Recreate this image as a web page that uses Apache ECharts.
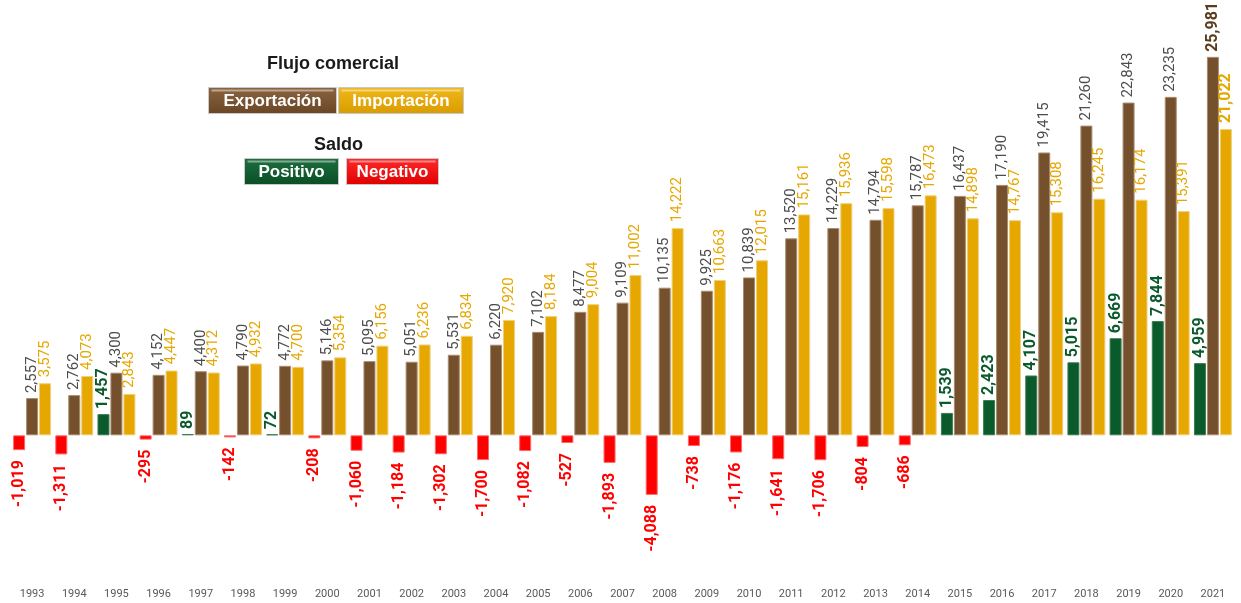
<!DOCTYPE html>
<html>
<head>
<meta charset="utf-8">
<script src="https://cdn.jsdelivr.net/npm/echarts@6/dist/echarts.min.js"></script>
<style>
  html, body { margin: 0; padding: 0; background: #fff; }
  #chart { width: 1241px; height: 603px; }
</style>
</head>
<body>
<div id="chart"></div>
<script>
// años
const years = ['1993', '1994', '1995', '1996', '1997', '1998', '1999', '2000', '2001', '2002',
  '2003', '2004', '2005', '2006', '2007', '2008', '2009', '2010', '2011', '2012',
  '2013', '2014', '2015', '2016', '2017', '2018', '2019', '2020', '2021']

const exportacion = [2557, 2762, 4300, 4152, 4400, 4790, 4772, 5146, 5095, 5051,
  5531, 6220, 7102, 8477, 9109, 10135, 9925, 10839, 13520, 14229,
  14794, 15787, 16437, 17190, 19415, 21260, 22843, 23235, 25981]

const importacion = [3575, 4073, 2843, 4447, 4312, 4932, 4700, 5354, 6156, 6236,
  6834, 7920, 8184, 9004, 11002, 14222, 10663, 12015, 15161, 15936,
  15598, 16473, 14898, 14767, 15308, 16245, 16174, 15391, 21022]

const saldo = [-1019, -1311, 1457, -295, 89, -142, 72, -208, -1060, -1184,
  -1302, -1700, -1082, -527, -1893, -4088, -738, -1176, -1641, -1706,
  -804, -686, 1539, 2423, 4107, 5015, 6669, 7844, 4959]

const FONT = 'Roboto'
const GREEN = '#0b5a2b'
const RED = '#ff0000'
const BROWN = '#75502d'
const GOLD = '#e6a700'

const fmt = v => v.toLocaleString('en-US')

function vGrad(top, bottom) {
  return new echarts.graphic.LinearGradient(0, 0, 0, 1, [
    { offset: 0, color: top },
    { offset: 1, color: bottom },
  ])
}

// el último año va en negrita
function withBoldLast(arr, color) {
  return arr.map((v, i) => i === arr.length - 1
    ? { value: v, label: { fontWeight: 'bold', fontSize: 16, color } }
    : v)
}

const saldoData = saldo.map(v => {
  const pos = v >= 0
  return {
    value: v,
    itemStyle: { color: pos ? GREEN : RED, borderColor: pos ? '#3d7d55' : '#ff6666' },
    label: pos
      ? { position: 'top', align: 'left', color: GREEN, distance: 5 }
      : { position: 'bottom', align: 'right', color: RED, distance: 10 },
  }
})

function legendBox(x, y, w, h, text, c1, c2) {
  return {
    type: 'group',
    left: x,
    top: y,
    children: [
      {
        type: 'rect',
        shape: { x: 0, y: 0, width: w, height: h },
        style: { fill: vGrad(c1, c2), stroke: '#c9c9c9', lineWidth: 1 },
      },
      {
        type: 'rect',
        shape: { x: 3, y: 2, width: w - 6, height: 2 },
        style: { fill: 'rgba(255,255,255,0.45)' },
      },
      {
        type: 'text',
        x: w / 2,
        y: h / 2 + 1,
        style: {
          text,
          fill: '#fff',
          font: 'bold 17px "Liberation Sans", Arial',
          align: 'center',
          verticalAlign: 'middle',
        },
      },
    ],
  }
}

const chart = echarts.init(document.getElementById('chart'))

chart.setOption({
  animation: false,
  backgroundColor: '#fff',
  grid: { left: 11, right: 7, top: 42, bottom: 22 },
  xAxis: {
    type: 'category',
    data: years,
    axisLine: { show: false, onZero: false },
    axisTick: { show: false },
    axisLabel: { color: '#595959', fontSize: 11, fontFamily: FONT, margin: 8 },
  },
  yAxis: {
    type: 'value',
    min: -10000,
    max: 27000,
    show: false,
    splitLine: { show: false },
  },
  series: [
    {
      name: 'Saldo',
      type: 'bar',
      barWidth: 12,
      barGap: '8%',
      data: saldoData,
      itemStyle: { borderWidth: 1 },
      label: {
        show: true,
        rotate: 90,
        verticalAlign: 'middle',
        fontFamily: FONT,
        fontSize: 16,
        fontWeight: 'bold',
        formatter: p => fmt(p.value),
      },
    },
    {
      name: 'Exportación',
      type: 'bar',
      barWidth: 12,
      barGap: '8%',
      data: withBoldLast(exportacion, '#5a3b1c'),
      itemStyle: { color: BROWN, borderColor: '#a88c70', borderWidth: 1 },
      label: {
        show: true,
        position: 'top',
        rotate: 90,
        align: 'left',
        verticalAlign: 'middle',
        distance: 5,
        color: '#4d4d4d',
        fontFamily: FONT,
        fontSize: 15,
        formatter: p => fmt(p.value),
      },
    },
    {
      name: 'Importación',
      type: 'bar',
      barWidth: 12,
      barGap: '8%',
      data: withBoldLast(importacion, GOLD),
      itemStyle: { color: GOLD, borderColor: '#f0cf7a', borderWidth: 1 },
      label: {
        show: true,
        position: 'top',
        rotate: 90,
        align: 'left',
        verticalAlign: 'middle',
        distance: 6,
        color: GOLD,
        fontFamily: FONT,
        fontSize: 15,
        formatter: p => fmt(p.value),
      },
    },
  ],
  graphic: [
    {
      type: 'text',
      left: 267,
      top: 55,
      style: { text: 'Flujo comercial', fill: '#1a1a1a', font: 'bold 18px "Liberation Sans", Arial' },
    },
    legendBox(208, 87, 128, 26, 'Exportación', '#8a6440', '#6a4626'),
    legendBox(338, 87, 125, 26, 'Importación', '#f0b81a', '#d99c00'),
    {
      type: 'text',
      left: 314,
      top: 136,
      style: { text: 'Saldo', fill: '#1a1a1a', font: 'bold 18px "Liberation Sans", Arial' },
    },
    legendBox(244, 158, 94, 26, 'Positivo', '#1d7040', '#0a4d24'),
    legendBox(346, 158, 92, 26, 'Negativo', '#ff2a2a', '#e00000'),
  ],
})
</script>
</body>
</html>
